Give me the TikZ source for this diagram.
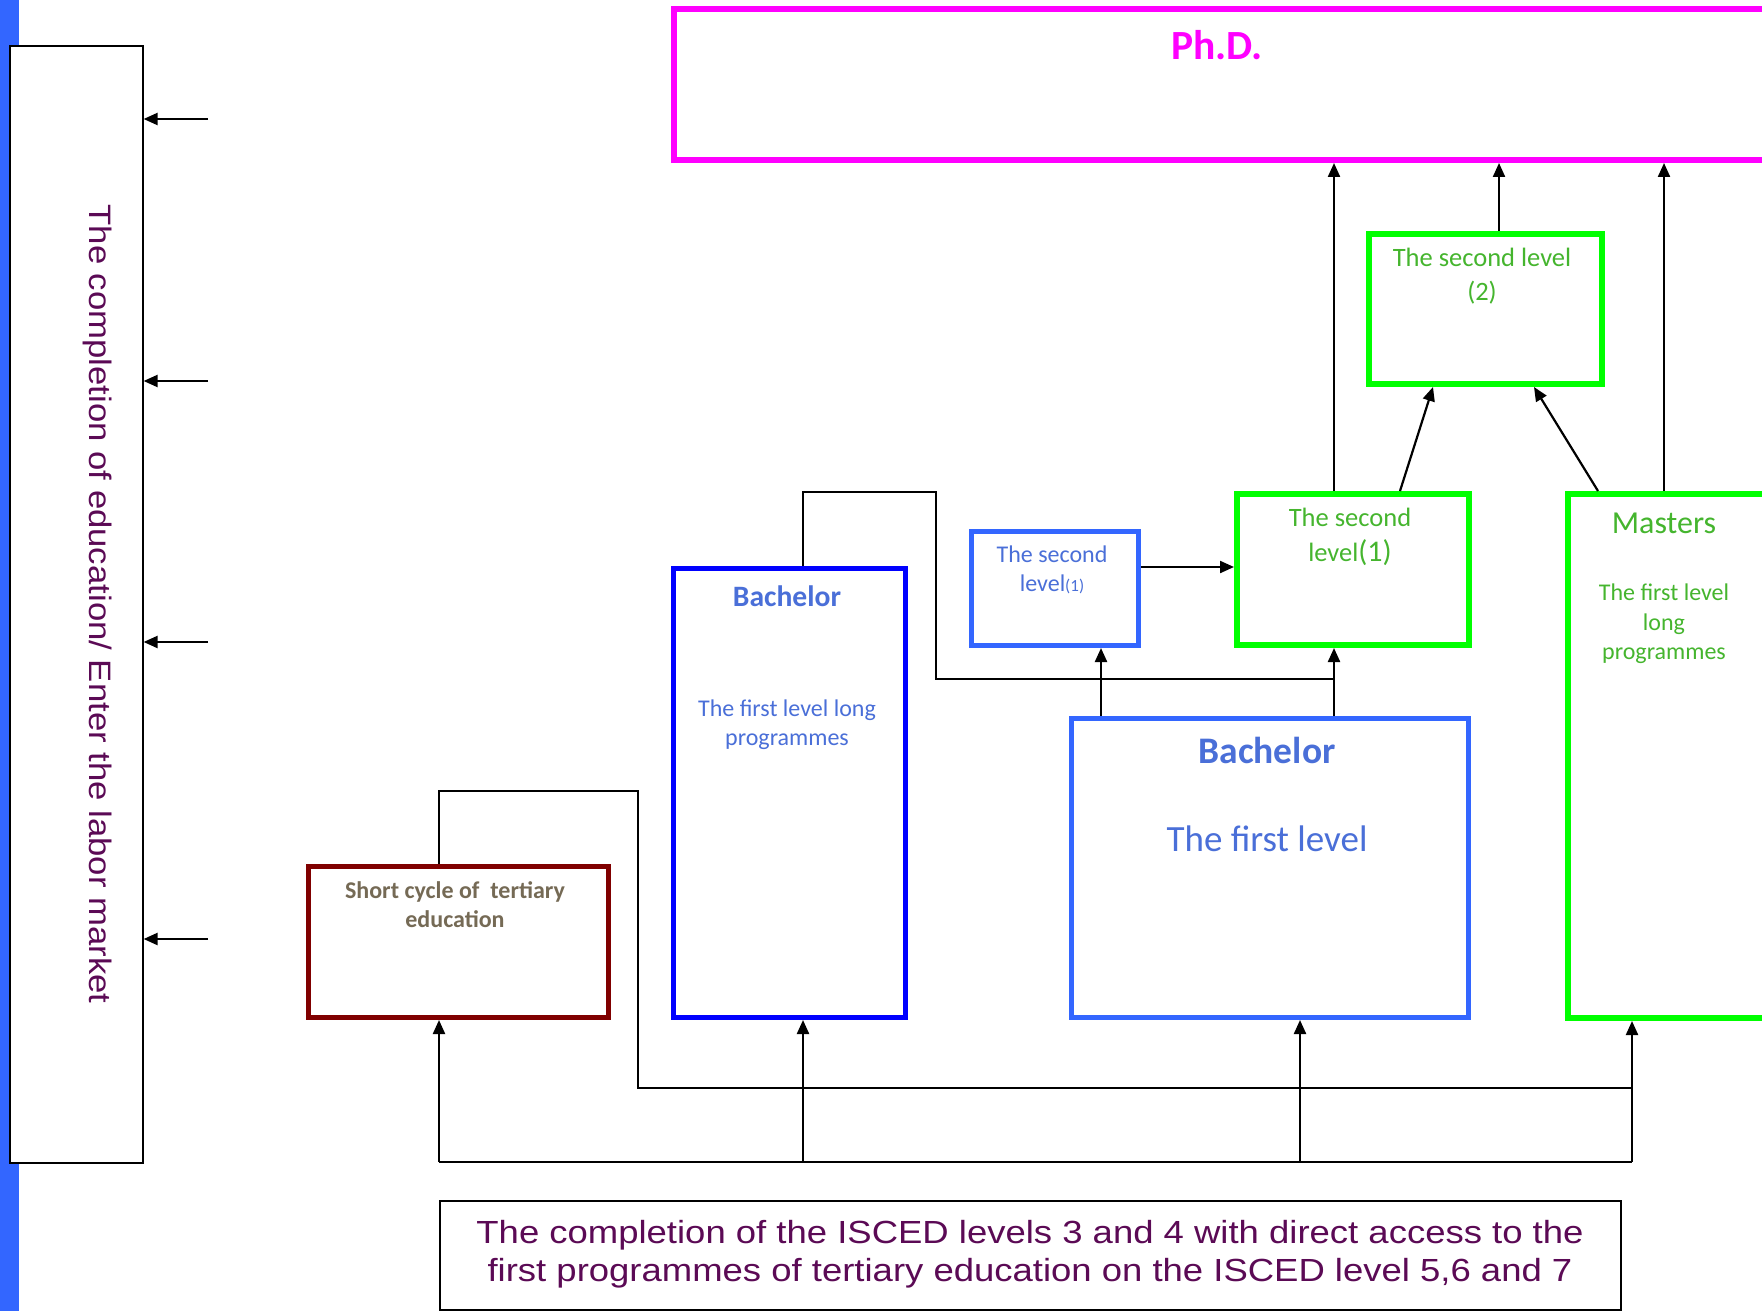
\documentclass[tikz,border=0pt]{standalone}
\usepackage{fontspec}
\setmainfont{Carlito}
\newfontfamily\tahoma[FakeStretch=1.12]{Liberation Sans}
\newfontfamily\tahomab[FakeStretch=1.14]{Liberation Sans}
\usetikzlibrary{arrows.meta,calc}
\definecolor{mag}{HTML}{FF00FF}
\definecolor{grn}{HTML}{00FF00}
\definecolor{grntxt}{HTML}{45B52E}
\definecolor{bluB}{HTML}{3366FF}
\definecolor{bluP}{HTML}{0000FF}
\definecolor{blutxt}{HTML}{4A6FD8}
\definecolor{dred}{HTML}{800000}
\definecolor{brn}{HTML}{756A55}
\definecolor{purp}{HTML}{5B0A55}
\definecolor{stripc}{HTML}{3366FF}
\tikzset{
  box/.style={draw, rectangle, inner sep=0pt, anchor=north west, fill=white},
  arr/.style={-{Triangle[length=14pt,width=12pt]}, line width=2.2pt, black},
  conn/.style={line width=1.6pt, black},
}
\begin{document}
\begin{tikzpicture}[x=1pt,y=-1pt]
\useasboundingbox (0,0) rectangle (1762,1311);
\fill[stripc] (0,0) rectangle (19,1311);

% boxes
\node[box, line width=1.6pt, minimum width=133pt, minimum height=1117pt] (left) at (9,45) {};
\node[box, draw=mag, line width=6pt, minimum width=1110pt, minimum height=151pt] (phd) at (671,6) {};
\node[box, draw=grn, line width=6pt, minimum width=233pt, minimum height=150pt] (sl2) at (1366,231) {};
\node[box, draw=grn, line width=6pt, minimum width=232pt, minimum height=151pt] (sl1) at (1234,491) {};
\node[box, draw=grn, line width=6pt, minimum width=215pt, minimum height=524pt] (mas) at (1565,491) {};
\node[box, draw=bluB, line width=5pt, minimum width=167pt, minimum height=114pt] (sb) at (969,529) {};
\node[box, draw=bluB, line width=5pt, minimum width=397pt, minimum height=299pt] (bb) at (1069,716) {};
\node[box, draw=bluP, line width=5pt, minimum width=232pt, minimum height=449pt] (bl) at (671,566) {};
\node[box, draw=dred, line width=5pt, minimum width=300pt, minimum height=151pt] (sc) at (306,864) {};
\node[box, line width=1.6pt, minimum width=1181pt, minimum height=109pt] (bot) at (439,1200) {};

% texts
\node[text=purp, rotate=-90, font=\tahoma\fontsize{31}{37}\selectfont] (lt) at (98,604) {The completion of education/ Enter the labor market};
\node[text=mag, font=\bfseries\fontsize{41.5}{48}\selectfont] (phdt) at (1217,45) {Ph.D.};
\node[text=grntxt, align=center, font=\fontsize{26.5}{34}\selectfont] (sl2t) at (1482,276) {The second level\\(2)};
\node[text=grntxt, align=center, font=\fontsize{26.5}{35}\selectfont] (sl1t) at (1350,537) {The second\\level{\fontsize{30}{35}\selectfont(1)}};
\node[text=grntxt, font=\fontsize{32}{38}\selectfont] (mast) at (1664,523) {Masters};
\node[text=grntxt, align=center, font=\fontsize{24}{29.5}\selectfont] (mast2) at (1664,624) {The first level\\long\\programmes};
\node[text=blutxt, align=center, font=\fontsize{24}{29}\selectfont] (sbt) at (1052,570) {The second\\level{\fontsize{17}{29}\selectfont(1)}};
\node[text=blutxt, font=\bfseries\fontsize{37.5}{42}\selectfont] (bbt) at (1267,750) {Bachelor};
\node[text=blutxt, font=\fontsize{37}{42}\selectfont] (bbt2) at (1267,839) {The first level};
\node[text=blutxt, font=\bfseries\fontsize{29.6}{34}\selectfont] (blt) at (787,596) {Bachelor};
\node[text=blutxt, align=center, font=\fontsize{24}{29}\selectfont] (blt2) at (787,725) {The first level long\\programmes};
\node[text=brn, align=center, font=\bfseries\fontsize{24}{29}\selectfont] (sct) at (455,905) {Short cycle of\ \ tertiary\\education};
\node[text=purp, align=center, font=\tahomab\fontsize{32}{38}\selectfont] (bott) at (1030,1254) {The completion of the ISCED levels 3 and 4 with direct access to the\\first programmes of tertiary education on the ISCED level 5,6 and 7};

% coordinates
\coordinate (la1) at (208,119);
\coordinate (la2) at (208,381);
\coordinate (la3) at (208,642);
\coordinate (la4) at (208,939);
\coordinate (xA) at (1334,0);
\coordinate (xB) at (1499,0);
\coordinate (xC) at (1664,0);
\coordinate (xD) at (1101,0);
\coordinate (yh) at (0,567);
\coordinate (b1) at (803,492);
\coordinate (b2) at (936,492);
\coordinate (b3) at (936,679);
\coordinate (c1) at (439,791);
\coordinate (c2) at (638,791);
\coordinate (c3) at (638,1088);
\coordinate (d1) at (439,1162);
\coordinate (d2) at (803,1162);
\coordinate (d3) at (1300,1162);
\coordinate (d4) at (1632,1162);

% connectors
\foreach \c in {la1,la2,la3,la4} \draw[arr] (\c) -- (left.east |- \c);
\draw[arr] (sl1.north -| xA) -- (phd.south -| xA);
\draw[arr] (sl2.north -| xB) -- (phd.south -| xB);
\draw[arr] (mas.north -| xC) -- (phd.south -| xC);
\draw[arr] ([xshift=166pt]sl1.north west) -- ([xshift=67pt]sl2.south west);
\draw[arr] ([xshift=33pt]mas.north west) -- ([xshift=168pt]sl2.south west);
\draw[arr] (sb.east |- yh) -- (sl1.west |- yh);
\draw[arr] (bb.north -| xD) -- (sb.south -| xD);
\draw[arr] (bb.north -| xA) -- (sl1.south -| xA);
\draw[conn] (bl.north -| b1) -- (b1) -- (b2) -- (b3) -- (b3 -| xA);
\draw[conn] (sc.north -| c1) -- (c1) -- (c2) -- (c3) -- (c3 -| d4);
\draw[line width=2.2pt] (d1) -- (d4);
\draw[arr] (d1) -- (sc.south -| d1);
\draw[arr] (d2) -- (bl.south -| d2);
\draw[arr] (d3) -- (bb.south -| d3);
\draw[arr] (d4) -- (mas.south -| d4);
\end{tikzpicture}
\end{document}
